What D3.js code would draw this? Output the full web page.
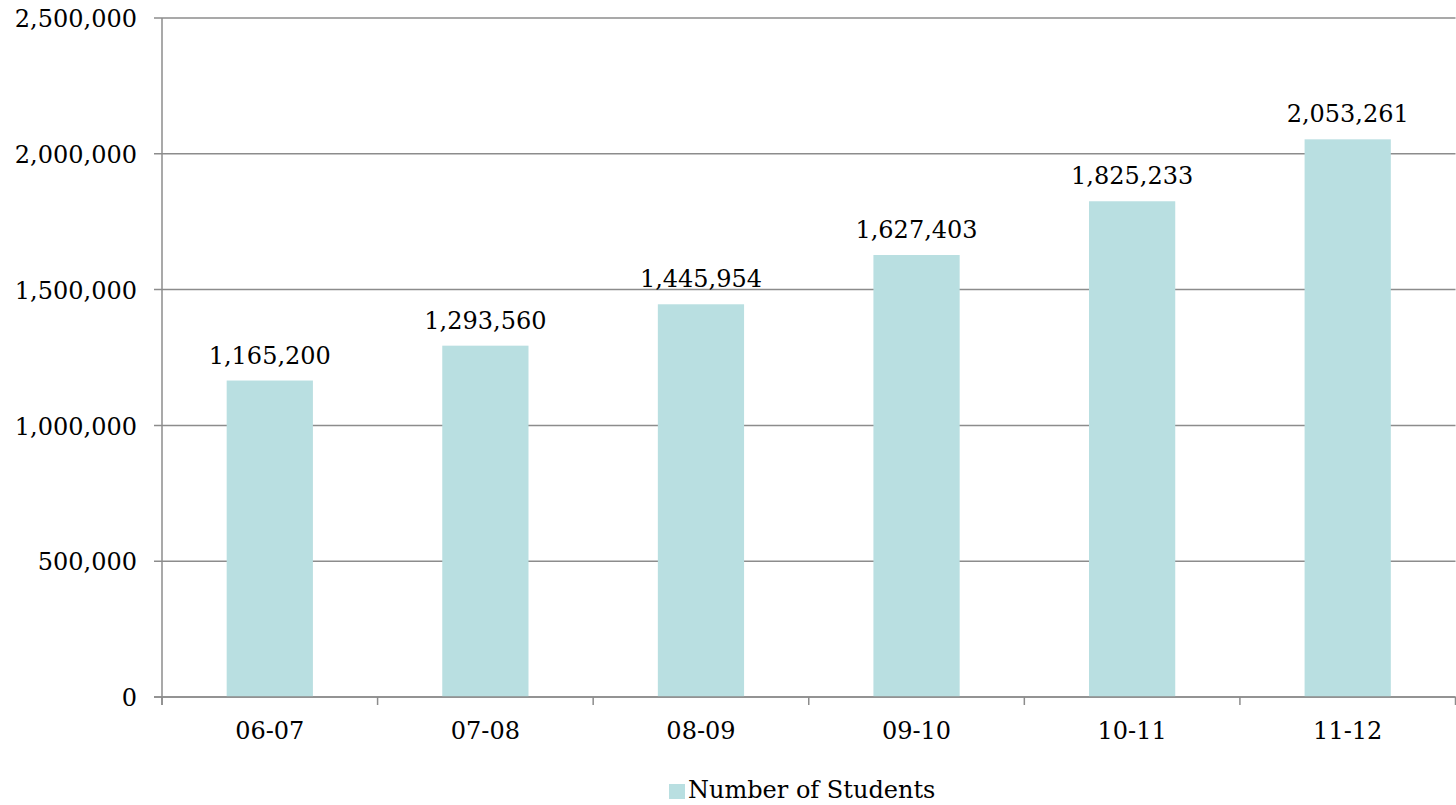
<!DOCTYPE html>
<html>
<head>
<meta charset="utf-8">
<script src="https://cdn.jsdelivr.net/npm/d3@7"></script>
<style>
  html, body { margin: 0; padding: 0; background: #fff; }
  svg text { font-family: "DejaVu Serif", "Liberation Serif", serif; font-variant-numeric: oldstyle-nums; fill: #000; }
</style>
</head>
<body>
<svg id="chart" width="1456" height="805"></svg>
<script>
const categories = ["06-07", "07-08", "08-09", "09-10", "10-11", "11-12"];
const students = [1165200, 1293560, 1445954, 1627403, 1825233, 2053261];
const yTicks = [0, 500000, 1000000, 1500000, 2000000, 2500000];
const seriesName = "Number of Students";

const W = 1456, H = 805;
const margin = { top: 18, right: 0.5, bottom: 108, left: 162 };
const iw = W - margin.left - margin.right;
const ih = H - margin.top - margin.bottom;

const barColor = "#b9dfe1";
const gridColor = "#8c8c8c";
const fontSize = 24;

const svg = d3.select("#chart");
const g = svg.append("g").attr("transform", `translate(${margin.left},${margin.top})`);

const x = d3.scaleBand().domain(categories).range([0, iw]).paddingInner(0.6).paddingOuter(0.3);
const y = d3.scaleLinear().domain([0, 2500000]).range([ih, 0]);
const fmt = d3.format(",");

// gridlines
g.append("g").selectAll("line").data(yTicks).join("line")
  .attr("x1", -8).attr("x2", iw)
  .attr("y1", d => y(d)).attr("y2", d => y(d))
  .attr("stroke", gridColor).attr("stroke-width", 1.5);

// y axis labels
const yAxis = d3.axisLeft(y).tickValues(yTicks).tickFormat(fmt).tickSize(0).tickPadding(25);
const ya = g.append("g").call(yAxis);
ya.select(".domain").remove();
ya.selectAll("text").attr("font-size", fontSize).attr("dy", "0.36em")
  .style("font-family", '"DejaVu Serif", serif').style("font-size", fontSize + "px");

// y axis line
g.append("line").attr("x1", 0).attr("x2", 0).attr("y1", 0).attr("y2", ih + 8)
  .attr("stroke", gridColor).attr("stroke-width", 1.5);

// bars
g.append("g").selectAll("rect").data(categories).join("rect")
  .attr("x", d => x(d))
  .attr("width", x.bandwidth())
  .attr("y", (d, i) => y(students[i]))
  .attr("height", (d, i) => ih - y(students[i]))
  .attr("fill", barColor);

// x axis baseline (drawn over bars)
g.append("line").attr("x1", -8).attr("x2", iw).attr("y1", ih).attr("y2", ih)
  .attr("stroke", gridColor).attr("stroke-width", 1.5);

// x ticks at category boundaries
const step = x.step();
const bounds = categories.map(c => x(c) - step * x.paddingOuter()).concat([iw]);
g.append("g").selectAll("line").data(bounds).join("line")
  .attr("x1", d => d).attr("x2", d => d)
  .attr("y1", ih).attr("y2", ih + 8)
  .attr("stroke", gridColor).attr("stroke-width", 1.5);

// x labels
const xAxis = d3.axisBottom(x).tickSize(0).tickPadding(0);
const xa = g.append("g").attr("transform", `translate(0,${ih})`).call(xAxis);
xa.select(".domain").remove();
xa.selectAll("text").attr("font-size", fontSize).attr("dy", null).attr("y", 42)
  .style("font-family", '"DejaVu Serif", serif').style("font-size", fontSize + "px");

// value labels
g.append("g").selectAll("text").data(categories).join("text")
  .attr("x", d => x(d) + x.bandwidth() / 2)
  .attr("y", (d, i) => y(students[i]) - 17)
  .attr("text-anchor", "middle")
  .style("font-size", fontSize + "px")
  .text((d, i) => fmt(students[i]));

// legend
const leg = svg.append("g").attr("transform", "translate(669,784)");
leg.append("rect").attr("width", 16).attr("height", 15).attr("fill", barColor);
leg.append("text").attr("x", 19).attr("y", 14).style("font-size", fontSize + "px").text(seriesName);
</script>
</body>
</html>
